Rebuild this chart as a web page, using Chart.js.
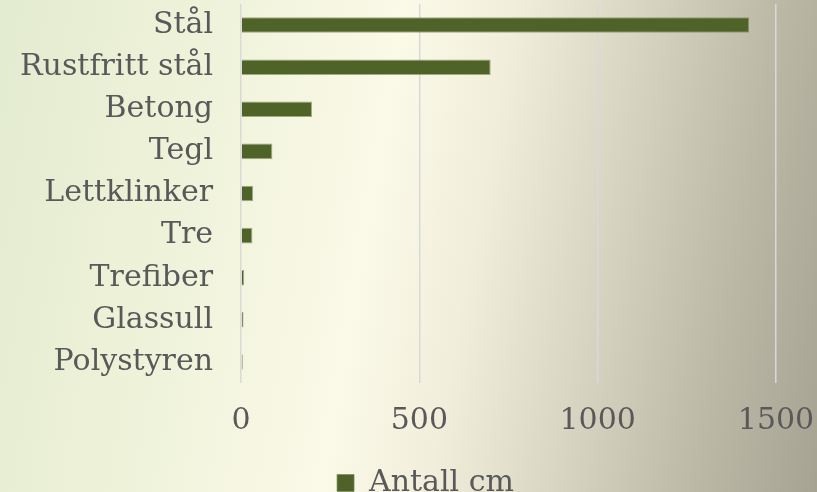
<!DOCTYPE html>
<html>
<head>
<meta charset="utf-8">
<script src="https://cdn.jsdelivr.net/npm/chart.js@4/dist/chart.umd.min.js"></script>
<style>
  html, body { margin: 0; padding: 0; }
  body {
    width: 817px; height: 492px; overflow: hidden;
    background: linear-gradient(100deg, #e3ebd0 0%, #eef2d9 22%, #fbf9e8 45%, #f1eedb 57%, #d8d5c2 71%, #bdb9a7 86%, #a6a393 100%);
  }
  /* canvas runs a bit past the right edge so the legend sits where the original one does */
  #wrap { position: relative; width: 851px; height: 492px; }
</style>
</head>
<body>
<div id="wrap"><canvas id="chart"></canvas></div>
<script>
// materials and their count (cm)
const categories = ['Stål', 'Rustfritt stål', 'Betong', 'Tegl', 'Lettklinker', 'Tre', 'Trefiber', 'Glassull', 'Polystyren'];
const antallCm = [1425, 700, 199, 88, 34, 32, 9, 7, 5];
const seriesLabel = 'Antall cm';
const xTicks = [0, 500, 1000, 1500];

const textColor = '#595959';
const barColor = '#4f6228';
const fontFamily = '"DejaVu Serif", serif';

new Chart(document.getElementById('chart'), {
    type: 'bar',
    data: {
        labels: categories,
        datasets: [{
            label: seriesLabel,
            data: antallCm,
            backgroundColor: barColor,
            borderColor: 'rgba(120,140,90,0.7)',
            borderWidth: 1,
            barPercentage: 0.37,
            categoryPercentage: 1
        }]
    },
    options: {
        indexAxis: 'y',
        responsive: true,
        maintainAspectRatio: false,
        animation: false,
        layout: { padding: { top: 4, left: 0, right: 0, bottom: -16 } },
        plugins: {
            legend: {
                position: 'bottom',
                labels: {
                    color: textColor,
                    font: { family: fontFamily, size: 30 },
                    boxWidth: 17, boxHeight: 17,
                    padding: 10
                }
            },
            tooltip: { enabled: false }
        },
        scales: {
            x: {
                min: 0, max: 1500,
                afterBuildTicks: s => { s.ticks = xTicks.map(v => ({ value: v })); },
                afterFit: s => { s.height = 75; s.paddingLeft = 0; s.paddingRight = 75; },
                grid: { color: '#d9d9d9', lineWidth: 1.5, drawTicks: false },
                border: { display: false },
                ticks: { color: textColor, font: { family: fontFamily, size: 30 }, padding: 20, callback: v => String(v) }
            },
            y: {
                afterFit: s => { s.width = 241; s.paddingTop = 0; s.paddingBottom = 0; },
                grid: { display: false, drawTicks: false },
                border: { display: false },
                ticks: { color: textColor, font: { family: fontFamily, size: 30 }, padding: 28, autoSkip: false }
            }
        }
    }
});
</script>
</body>
</html>
